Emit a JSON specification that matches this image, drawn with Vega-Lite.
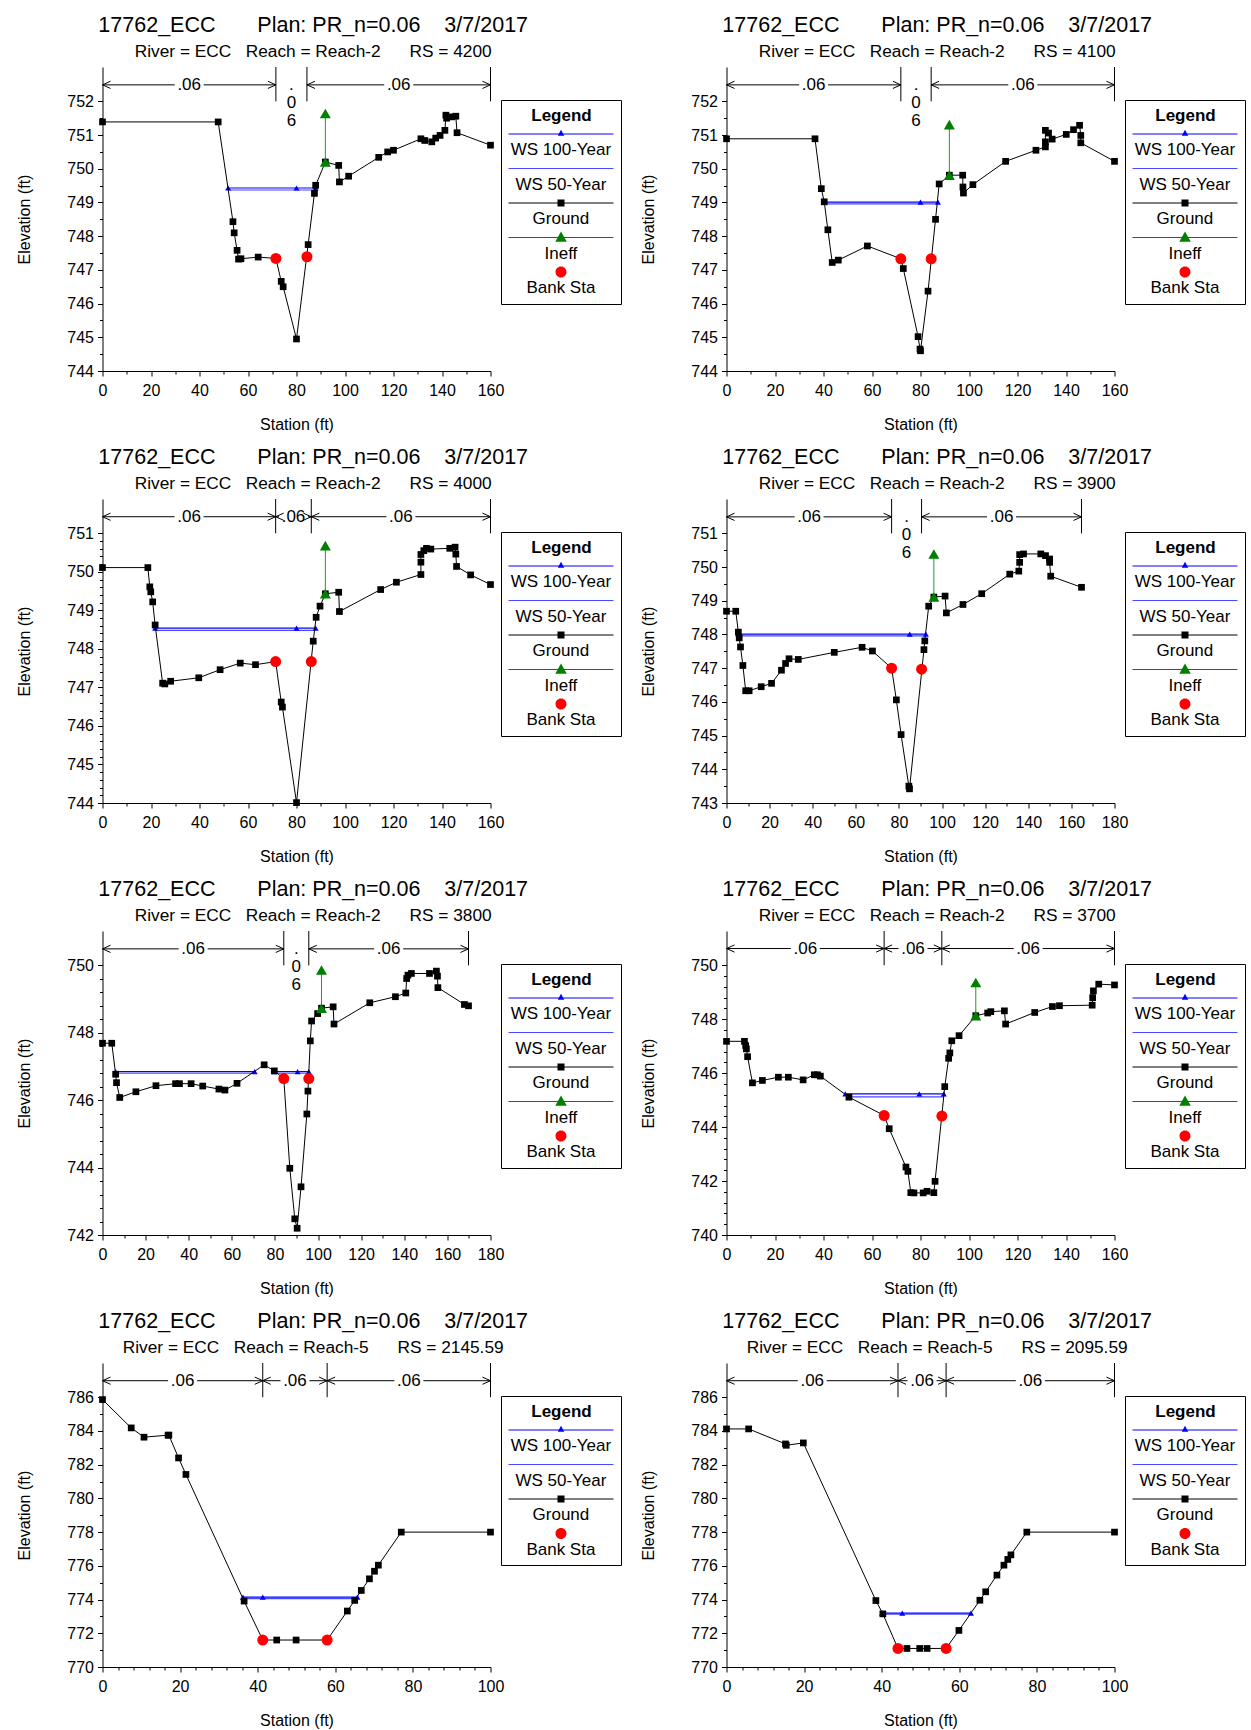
{
"$schema": "https://vega.github.io/schema/vega-lite/v6.json",
"padding": {"left": 16.5, "top": 14, "right": 5, "bottom": 5},
"background": "white",
"columns": 2,
"spacing": {"row": 128, "column": 236},
"bounds": "flush",
"resolve": {"scale": {"x": "independent", "y": "independent", "color": "independent", "shape": "independent"}, "legend": {"color": "independent", "shape": "independent"}},
"config": {
 "view": {"stroke": null},
 "font": "Liberation Sans",
 "axis": {"labelFont": "Liberation Sans", "titleFont": "Liberation Sans", "labelFontSize": 16, "titleFontSize": 16, "titleFontWeight": "normal", "labelColor": "black", "titleColor": "black", "domainColor": "black", "tickColor": "black", "grid": false, "labelOverlap": false, "labelFlush": false, "labelBound": false},
 "axisX": {"titlePadding": 18, "labelPadding": 6, "tickSize": 5},
 "axisY": {"titlePadding": 34, "labelPadding": 4, "tickSize": 5},
 "title": {"font": "Liberation Sans", "subtitleFont": "Liberation Sans", "fontSize": 21.5, "subtitleFontSize": 17.3, "fontWeight": "normal", "color": "black", "subtitleColor": "black", "anchor": "middle", "frame": "group", "dx": 16.7, "offset": 6, "subtitlePadding": 7},
 "legend": {"strokeColor": "black", "fillColor": "white", "padding": 7.5, "titleFont": "Liberation Sans", "titleFontSize": 17, "titleFontWeight": "bold", "titleColor": "black", "titleAnchor": "middle", "titlePadding": 17, "labelFont": "Liberation Sans", "labelFontSize": 17, "labelColor": "black", "labelAlign": "center", "labelBaseline": "middle", "labelOffset": -8.6, "symbolSize": 100, "symbolOffset": 44, "symbolStrokeWidth": 0, "rowPadding": 2.5}
},
"datasets": {
 "ground": [
  {"rs":"4200","sta":0,"elev":751.39},{"rs":"4200","sta":47.7,"elev":751.39},{"rs":"4200","sta":53.8,"elev":748.43},{"rs":"4200","sta":54.3,"elev":748.1},{"rs":"4200","sta":55.5,"elev":747.58},{"rs":"4200","sta":56.1,"elev":747.32},{"rs":"4200","sta":57.1,"elev":747.33},{"rs":"4200","sta":64.2,"elev":747.38},{"rs":"4200","sta":71.5,"elev":747.34},{"rs":"4200","sta":73.7,"elev":746.66},{"rs":"4200","sta":74.5,"elev":746.5},{"rs":"4200","sta":80,"elev":744.95},{"rs":"4200","sta":84.8,"elev":747.75},{"rs":"4200","sta":87.4,"elev":749.27},{"rs":"4200","sta":87.9,"elev":749.51},{"rs":"4200","sta":91.9,"elev":750.2},{"rs":"4200","sta":97.4,"elev":750.1},{"rs":"4200","sta":97.7,"elev":749.61},{"rs":"4200","sta":101.5,"elev":749.78},{"rs":"4200","sta":113.9,"elev":750.34},{"rs":"4200","sta":117.6,"elev":750.5},{"rs":"4200","sta":120,"elev":750.55},{"rs":"4200","sta":131.3,"elev":750.89},{"rs":"4200","sta":132.9,"elev":750.84},{"rs":"4200","sta":135.8,"elev":750.8},{"rs":"4200","sta":137.4,"elev":750.91},{"rs":"4200","sta":139.2,"elev":750.99},{"rs":"4200","sta":141.2,"elev":751.14},{"rs":"4200","sta":141.6,"elev":751.59},{"rs":"4200","sta":141.9,"elev":751.5},{"rs":"4200","sta":144,"elev":751.54},{"rs":"4200","sta":145.7,"elev":751.56},{"rs":"4200","sta":146.2,"elev":751.07},{"rs":"4200","sta":160,"elev":750.7},
  {"rs":"4100","sta":0,"elev":750.89},{"rs":"4100","sta":36.5,"elev":750.89},{"rs":"4100","sta":39.1,"elev":749.41},{"rs":"4100","sta":40.3,"elev":749.02},{"rs":"4100","sta":41.8,"elev":748.19},{"rs":"4100","sta":43.6,"elev":747.22},{"rs":"4100","sta":46.1,"elev":747.29},{"rs":"4100","sta":58.1,"elev":747.71},{"rs":"4100","sta":71.9,"elev":747.33},{"rs":"4100","sta":72.9,"elev":747.04},{"rs":"4100","sta":79,"elev":745.02},{"rs":"4100","sta":79.8,"elev":744.65},{"rs":"4100","sta":80,"elev":744.6},{"rs":"4100","sta":83.1,"elev":746.37},{"rs":"4100","sta":86.2,"elev":748.5},{"rs":"4100","sta":87.7,"elev":749.55},{"rs":"4100","sta":91.9,"elev":749.81},{"rs":"4100","sta":97.4,"elev":749.81},{"rs":"4100","sta":97.5,"elev":749.46},{"rs":"4100","sta":97.7,"elev":749.28},{"rs":"4100","sta":101.6,"elev":749.53},{"rs":"4100","sta":115.1,"elev":750.22},{"rs":"4100","sta":127.6,"elev":750.55},{"rs":"4100","sta":131.5,"elev":750.65},{"rs":"4100","sta":131.5,"elev":750.8},{"rs":"4100","sta":131.5,"elev":751.14},{"rs":"4100","sta":132.8,"elev":751.06},{"rs":"4100","sta":134.3,"elev":750.88},{"rs":"4100","sta":140.1,"elev":751.02},{"rs":"4100","sta":143.1,"elev":751.16},{"rs":"4100","sta":145.6,"elev":751.29},{"rs":"4100","sta":146.1,"elev":750.99},{"rs":"4100","sta":146.1,"elev":750.77},{"rs":"4100","sta":160,"elev":750.22},
  {"rs":"4000","sta":0,"elev":750.11},{"rs":"4000","sta":18.7,"elev":750.11},{"rs":"4000","sta":19.5,"elev":749.61},{"rs":"4000","sta":19.9,"elev":749.48},{"rs":"4000","sta":20.7,"elev":749.22},{"rs":"4000","sta":21.7,"elev":748.62},{"rs":"4000","sta":24.8,"elev":747.11},{"rs":"4000","sta":25.7,"elev":747.09},{"rs":"4000","sta":28.1,"elev":747.16},{"rs":"4000","sta":39.7,"elev":747.25},{"rs":"4000","sta":48.5,"elev":747.46},{"rs":"4000","sta":56.8,"elev":747.63},{"rs":"4000","sta":63.1,"elev":747.59},{"rs":"4000","sta":71.4,"elev":747.67},{"rs":"4000","sta":73.7,"elev":746.62},{"rs":"4000","sta":74.2,"elev":746.49},{"rs":"4000","sta":80,"elev":744.01},{"rs":"4000","sta":86.9,"elev":748.2},{"rs":"4000","sta":88.1,"elev":748.82},{"rs":"4000","sta":89.7,"elev":749.11},{"rs":"4000","sta":91.9,"elev":749.43},{"rs":"4000","sta":97.4,"elev":749.47},{"rs":"4000","sta":97.7,"elev":748.97},{"rs":"4000","sta":114.7,"elev":749.54},{"rs":"4000","sta":121.2,"elev":749.73},{"rs":"4000","sta":131.3,"elev":749.93},{"rs":"4000","sta":131.3,"elev":750.25},{"rs":"4000","sta":131.3,"elev":750.45},{"rs":"4000","sta":132.5,"elev":750.55},{"rs":"4000","sta":133.6,"elev":750.61},{"rs":"4000","sta":135.4,"elev":750.59},{"rs":"4000","sta":143.2,"elev":750.61},{"rs":"4000","sta":145.4,"elev":750.64},{"rs":"4000","sta":145.7,"elev":750.46},{"rs":"4000","sta":146,"elev":750.14},{"rs":"4000","sta":151.8,"elev":749.92},{"rs":"4000","sta":160,"elev":749.67},
  {"rs":"3900","sta":0,"elev":748.69},{"rs":"3900","sta":4.3,"elev":748.69},{"rs":"3900","sta":5.5,"elev":748.07},{"rs":"3900","sta":5.9,"elev":747.9},{"rs":"3900","sta":6.5,"elev":747.63},{"rs":"3900","sta":7.6,"elev":747.08},{"rs":"3900","sta":8.9,"elev":746.33},{"rs":"3900","sta":10.5,"elev":746.33},{"rs":"3900","sta":16.1,"elev":746.45},{"rs":"3900","sta":20.9,"elev":746.55},{"rs":"3900","sta":25.5,"elev":746.94},{"rs":"3900","sta":27.4,"elev":747.14},{"rs":"3900","sta":29,"elev":747.28},{"rs":"3900","sta":33.3,"elev":747.26},{"rs":"3900","sta":50,"elev":747.47},{"rs":"3900","sta":62.9,"elev":747.62},{"rs":"3900","sta":67.7,"elev":747.51},{"rs":"3900","sta":76.6,"elev":747.0},{"rs":"3900","sta":78.8,"elev":746.06},{"rs":"3900","sta":81,"elev":745.03},{"rs":"3900","sta":84.6,"elev":743.5},{"rs":"3900","sta":84.9,"elev":743.42},{"rs":"3900","sta":91.6,"elev":747.55},{"rs":"3900","sta":92,"elev":747.81},{"rs":"3900","sta":93.8,"elev":748.84},{"rs":"3900","sta":96.2,"elev":749.11},{"rs":"3900","sta":101.4,"elev":749.14},{"rs":"3900","sta":102,"elev":748.64},{"rs":"3900","sta":109.7,"elev":748.89},{"rs":"3900","sta":118.4,"elev":749.21},{"rs":"3900","sta":131.4,"elev":749.79},{"rs":"3900","sta":135.6,"elev":749.88},{"rs":"3900","sta":136,"elev":750.14},{"rs":"3900","sta":136,"elev":750.37},{"rs":"3900","sta":137.8,"elev":750.39},{"rs":"3900","sta":145.8,"elev":750.39},{"rs":"3900","sta":148,"elev":750.34},{"rs":"3900","sta":149.9,"elev":750.24},{"rs":"3900","sta":149.9,"elev":750.14},{"rs":"3900","sta":150.4,"elev":749.73},{"rs":"3900","sta":164.7,"elev":749.4},
  {"rs":"3800","sta":0,"elev":747.69},{"rs":"3800","sta":4.3,"elev":747.69},{"rs":"3800","sta":6.1,"elev":746.77},{"rs":"3800","sta":6.5,"elev":746.52},{"rs":"3800","sta":8,"elev":746.08},{"rs":"3800","sta":15.5,"elev":746.25},{"rs":"3800","sta":24.8,"elev":746.43},{"rs":"3800","sta":33.9,"elev":746.49},{"rs":"3800","sta":35.7,"elev":746.49},{"rs":"3800","sta":41.1,"elev":746.49},{"rs":"3800","sta":46.5,"elev":746.42},{"rs":"3800","sta":54,"elev":746.33},{"rs":"3800","sta":56.8,"elev":746.3},{"rs":"3800","sta":62.4,"elev":746.5},{"rs":"3800","sta":75,"elev":747.05},{"rs":"3800","sta":79.7,"elev":746.87},{"rs":"3800","sta":84.1,"elev":746.64},{"rs":"3800","sta":86.9,"elev":743.98},{"rs":"3800","sta":89.2,"elev":742.48},{"rs":"3800","sta":90.3,"elev":742.2},{"rs":"3800","sta":92.1,"elev":743.43},{"rs":"3800","sta":94.8,"elev":745.59},{"rs":"3800","sta":95.3,"elev":746.27},{"rs":"3800","sta":96.4,"elev":747.76},{"rs":"3800","sta":97,"elev":748.35},{"rs":"3800","sta":99.8,"elev":748.57},{"rs":"3800","sta":101.6,"elev":748.73},{"rs":"3800","sta":107,"elev":748.77},{"rs":"3800","sta":107.4,"elev":748.26},{"rs":"3800","sta":124,"elev":748.89},{"rs":"3800","sta":135.9,"elev":749.07},{"rs":"3800","sta":140.7,"elev":749.18},{"rs":"3800","sta":141.1,"elev":749.61},{"rs":"3800","sta":141.7,"elev":749.71},{"rs":"3800","sta":143.3,"elev":749.76},{"rs":"3800","sta":151.7,"elev":749.76},{"rs":"3800","sta":154.9,"elev":749.83},{"rs":"3800","sta":155.4,"elev":749.68},{"rs":"3800","sta":155.6,"elev":749.34},{"rs":"3800","sta":167.9,"elev":748.84},{"rs":"3800","sta":169.8,"elev":748.8},
  {"rs":"3700","sta":0,"elev":747.18},{"rs":"3700","sta":7.4,"elev":747.18},{"rs":"3700","sta":7.9,"elev":747.02},{"rs":"3700","sta":8.2,"elev":746.9},{"rs":"3700","sta":8.7,"elev":746.61},{"rs":"3700","sta":10.7,"elev":745.64},{"rs":"3700","sta":14.8,"elev":745.73},{"rs":"3700","sta":21.4,"elev":745.85},{"rs":"3700","sta":25.5,"elev":745.85},{"rs":"3700","sta":31.6,"elev":745.75},{"rs":"3700","sta":36.2,"elev":745.94},{"rs":"3700","sta":37.5,"elev":745.94},{"rs":"3700","sta":38.7,"elev":745.89},{"rs":"3700","sta":50.5,"elev":745.11},{"rs":"3700","sta":65,"elev":744.43},{"rs":"3700","sta":67.1,"elev":743.94},{"rs":"3700","sta":74,"elev":742.52},{"rs":"3700","sta":74.8,"elev":742.36},{"rs":"3700","sta":76,"elev":741.57},{"rs":"3700","sta":77.3,"elev":741.56},{"rs":"3700","sta":81.1,"elev":741.56},{"rs":"3700","sta":82.7,"elev":741.62},{"rs":"3700","sta":85.5,"elev":741.57},{"rs":"3700","sta":86,"elev":741.99},{"rs":"3700","sta":90,"elev":745.5},{"rs":"3700","sta":91.6,"elev":746.55},{"rs":"3700","sta":92.1,"elev":746.75},{"rs":"3700","sta":92.9,"elev":747.2},{"rs":"3700","sta":95.9,"elev":747.39},{"rs":"3700","sta":102.8,"elev":748.13},{"rs":"3700","sta":107.7,"elev":748.23},{"rs":"3700","sta":109,"elev":748.28},{"rs":"3700","sta":114.6,"elev":748.31},{"rs":"3700","sta":115.1,"elev":747.82},{"rs":"3700","sta":127.1,"elev":748.25},{"rs":"3700","sta":134.4,"elev":748.47},{"rs":"3700","sta":137.3,"elev":748.5},{"rs":"3700","sta":150.8,"elev":748.52},{"rs":"3700","sta":151,"elev":748.8},{"rs":"3700","sta":151.3,"elev":749.05},{"rs":"3700","sta":153.5,"elev":749.3},{"rs":"3700","sta":160,"elev":749.27},
  {"rs":"2145.59","sta":0,"elev":785.86},{"rs":"2145.59","sta":7.4,"elev":784.18},{"rs":"2145.59","sta":10.7,"elev":783.63},{"rs":"2145.59","sta":16.9,"elev":783.75},{"rs":"2145.59","sta":17.1,"elev":783.75},{"rs":"2145.59","sta":19.6,"elev":782.4},{"rs":"2145.59","sta":21.5,"elev":781.42},{"rs":"2145.59","sta":36.5,"elev":773.91},{"rs":"2145.59","sta":41.3,"elev":771.6},{"rs":"2145.59","sta":44.9,"elev":771.6},{"rs":"2145.59","sta":49.9,"elev":771.6},{"rs":"2145.59","sta":57.9,"elev":771.6},{"rs":"2145.59","sta":63.1,"elev":773.32},{"rs":"2145.59","sta":65,"elev":773.95},{"rs":"2145.59","sta":66.7,"elev":774.54},{"rs":"2145.59","sta":68.8,"elev":775.23},{"rs":"2145.59","sta":70.1,"elev":775.68},{"rs":"2145.59","sta":71.1,"elev":776.04},{"rs":"2145.59","sta":77,"elev":778},{"rs":"2145.59","sta":100,"elev":778},
  {"rs":"2095.59","sta":0,"elev":784.12},{"rs":"2095.59","sta":5.7,"elev":784.12},{"rs":"2095.59","sta":15.2,"elev":783.23},{"rs":"2095.59","sta":15.4,"elev":783.15},{"rs":"2095.59","sta":19.8,"elev":783.29},{"rs":"2095.59","sta":38.5,"elev":773.94},{"rs":"2095.59","sta":40.3,"elev":773.15},{"rs":"2095.59","sta":44.2,"elev":771.1},{"rs":"2095.59","sta":46.5,"elev":771.1},{"rs":"2095.59","sta":49.8,"elev":771.1},{"rs":"2095.59","sta":51.7,"elev":771.1},{"rs":"2095.59","sta":56.6,"elev":771.1},{"rs":"2095.59","sta":59.9,"elev":772.17},{"rs":"2095.59","sta":65.3,"elev":773.96},{"rs":"2095.59","sta":66.8,"elev":774.46},{"rs":"2095.59","sta":69.7,"elev":775.45},{"rs":"2095.59","sta":71.5,"elev":776.04},{"rs":"2095.59","sta":72.5,"elev":776.38},{"rs":"2095.59","sta":73.3,"elev":776.65},{"rs":"2095.59","sta":77.4,"elev":778},{"rs":"2095.59","sta":100,"elev":778}
 ],
 "ws": [
  {"rs":"4200","profile":"WS 100-Year","seg":"a","sta":51.8,"elev":749.43},{"rs":"4200","profile":"WS 100-Year","seg":"a","sta":80,"elev":749.43},{"rs":"4200","profile":"WS 100-Year","seg":"a","sta":87.9,"elev":749.43},
  {"rs":"4200","profile":"WS 50-Year","seg":"a","sta":51.9,"elev":749.37},{"rs":"4200","profile":"WS 50-Year","seg":"a","sta":87.8,"elev":749.37},
  {"rs":"4100","profile":"WS 100-Year","seg":"a","sta":40.3,"elev":749.01},{"rs":"4100","profile":"WS 100-Year","seg":"a","sta":80,"elev":749.01},{"rs":"4100","profile":"WS 100-Year","seg":"a","sta":87.2,"elev":749.01},
  {"rs":"4100","profile":"WS 50-Year","seg":"a","sta":40.4,"elev":748.96},{"rs":"4100","profile":"WS 50-Year","seg":"a","sta":87.1,"elev":748.96},
  {"rs":"4000","profile":"WS 100-Year","seg":"a","sta":21.7,"elev":748.54},{"rs":"4000","profile":"WS 100-Year","seg":"a","sta":80,"elev":748.54},{"rs":"4000","profile":"WS 100-Year","seg":"a","sta":87.9,"elev":748.54},
  {"rs":"4000","profile":"WS 50-Year","seg":"a","sta":21.8,"elev":748.48},{"rs":"4000","profile":"WS 50-Year","seg":"a","sta":87.8,"elev":748.48},
  {"rs":"3900","profile":"WS 100-Year","seg":"a","sta":5.5,"elev":748.01},{"rs":"3900","profile":"WS 100-Year","seg":"a","sta":85,"elev":748.01},{"rs":"3900","profile":"WS 100-Year","seg":"a","sta":92.5,"elev":748.01},
  {"rs":"3900","profile":"WS 50-Year","seg":"a","sta":5.6,"elev":747.96},{"rs":"3900","profile":"WS 50-Year","seg":"a","sta":92.4,"elev":747.96},
  {"rs":"3800","profile":"WS 100-Year","seg":"a","sta":6.1,"elev":746.85},{"rs":"3800","profile":"WS 100-Year","seg":"a","sta":70.6,"elev":746.85},{"rs":"3800","profile":"WS 100-Year","seg":"b","sta":79.7,"elev":746.85},{"rs":"3800","profile":"WS 100-Year","seg":"b","sta":90.5,"elev":746.85},{"rs":"3800","profile":"WS 100-Year","seg":"b","sta":95.7,"elev":746.85},
  {"rs":"3800","profile":"WS 50-Year","seg":"a","sta":6.2,"elev":746.8},{"rs":"3800","profile":"WS 50-Year","seg":"a","sta":70.4,"elev":746.8},{"rs":"3800","profile":"WS 50-Year","seg":"b","sta":80.1,"elev":746.8},{"rs":"3800","profile":"WS 50-Year","seg":"b","sta":95.6,"elev":746.8},
  {"rs":"3700","profile":"WS 100-Year","seg":"a","sta":49,"elev":745.23},{"rs":"3700","profile":"WS 100-Year","seg":"a","sta":79.5,"elev":745.23},{"rs":"3700","profile":"WS 100-Year","seg":"a","sta":89.6,"elev":745.23},
  {"rs":"3700","profile":"WS 50-Year","seg":"a","sta":50.3,"elev":745.12},{"rs":"3700","profile":"WS 50-Year","seg":"a","sta":89.5,"elev":745.12},
  {"rs":"2145.59","profile":"WS 100-Year","seg":"a","sta":36.2,"elev":774.14},{"rs":"2145.59","profile":"WS 100-Year","seg":"a","sta":41.3,"elev":774.14},{"rs":"2145.59","profile":"WS 100-Year","seg":"a","sta":65.7,"elev":774.14},
  {"rs":"2145.59","profile":"WS 50-Year","seg":"a","sta":36.3,"elev":774.06},{"rs":"2145.59","profile":"WS 50-Year","seg":"a","sta":65.6,"elev":774.06},
  {"rs":"2095.59","profile":"WS 100-Year","seg":"a","sta":40.1,"elev":773.19},{"rs":"2095.59","profile":"WS 100-Year","seg":"a","sta":45.3,"elev":773.19},{"rs":"2095.59","profile":"WS 100-Year","seg":"a","sta":63,"elev":773.19},
  {"rs":"2095.59","profile":"WS 50-Year","seg":"a","sta":40.2,"elev":773.13},{"rs":"2095.59","profile":"WS 50-Year","seg":"a","sta":62.9,"elev":773.13}
 ],
 "ineff": [
  {"rs":"4200","sta":91.9,"elev":750.2},{"rs":"4200","sta":91.9,"elev":751.64},
  {"rs":"4100","sta":91.9,"elev":749.81},{"rs":"4100","sta":91.9,"elev":751.31},
  {"rs":"4000","sta":91.9,"elev":749.43},{"rs":"4000","sta":91.9,"elev":750.68},
  {"rs":"3900","sta":96.2,"elev":749.11},{"rs":"3900","sta":96.2,"elev":750.39},
  {"rs":"3800","sta":101.6,"elev":748.73},{"rs":"3800","sta":101.6,"elev":749.86},
  {"rs":"3700","sta":102.8,"elev":748.13},{"rs":"3700","sta":102.8,"elev":749.36}
 ],
 "bank": [
  {"rs":"4200","sta":71.5,"elev":747.34},{"rs":"4200","sta":84.3,"elev":747.39},
  {"rs":"4100","sta":71.9,"elev":747.33},{"rs":"4100","sta":84.4,"elev":747.33},
  {"rs":"4000","sta":71.4,"elev":747.67},{"rs":"4000","sta":86.1,"elev":747.67},
  {"rs":"3900","sta":76.6,"elev":747.0},{"rs":"3900","sta":90.5,"elev":746.97},
  {"rs":"3800","sta":84.1,"elev":746.64},{"rs":"3800","sta":95.7,"elev":746.64},
  {"rs":"3700","sta":65,"elev":744.43},{"rs":"3700","sta":88.8,"elev":744.41},
  {"rs":"2145.59","sta":41.3,"elev":771.6},{"rs":"2145.59","sta":57.9,"elev":771.6},
  {"rs":"2095.59","sta":44.2,"elev":771.1},{"rs":"2095.59","sta":56.6,"elev":771.1}
 ],
 "nval": [
  {"rs":"4200","start":0,"end":71.5,"n":".06"},{"rs":"4200","start":71.5,"end":84.3,"n":".06"},{"rs":"4200","start":84.3,"end":160,"n":".06"},
  {"rs":"4100","start":0,"end":71.9,"n":".06"},{"rs":"4100","start":71.9,"end":84.4,"n":".06"},{"rs":"4100","start":84.4,"end":160,"n":".06"},
  {"rs":"4000","start":0,"end":71.4,"n":".06"},{"rs":"4000","start":71.4,"end":86.1,"n":".06"},{"rs":"4000","start":86.1,"end":160,"n":".06"},
  {"rs":"3900","start":0,"end":76.6,"n":".06"},{"rs":"3900","start":76.6,"end":90.5,"n":".06"},{"rs":"3900","start":90.5,"end":164.7,"n":".06"},
  {"rs":"3800","start":0,"end":84.1,"n":".06"},{"rs":"3800","start":84.1,"end":95.7,"n":".06"},{"rs":"3800","start":95.7,"end":169.8,"n":".06"},
  {"rs":"3700","start":0,"end":65,"n":".06"},{"rs":"3700","start":65,"end":88.8,"n":".06"},{"rs":"3700","start":88.8,"end":160,"n":".06"},
  {"rs":"2145.59","start":0,"end":41.3,"n":".06"},{"rs":"2145.59","start":41.3,"end":57.9,"n":".06"},{"rs":"2145.59","start":57.9,"end":100,"n":".06"},
  {"rs":"2095.59","start":0,"end":44.2,"n":".06"},{"rs":"2095.59","start":44.2,"end":56.6,"n":".06"},{"rs":"2095.59","start":56.6,"end":100,"n":".06"}
 ]
},
"concat": [
 {"width": 388, "height": 304,
  "title": {"text": "17762_ECC\u00a0\u00a0\u00a0\u00a0\u00a0\u00a0\u00a0Plan: PR_n=0.06\u00a0\u00a0\u00a0\u00a03/7/2017", "subtitle": "River = ECC\u00a0\u00a0\u00a0Reach = Reach-2\u00a0\u00a0\u00a0\u00a0\u00a0\u00a0RS = 4200"},
  "resolve": {"axis": {"x": "independent", "y": "independent"}},
  "layer": [
   {"data": {"values": []}, "mark": {"type": "point", "filled": true, "opacity": 1},
    "encoding": {
     "color": {"field": "series", "type": "nominal", "scale": {"domain": ["WS 100-Year","WS 50-Year","Ground","Ineff","Bank Sta"], "range": ["#0000ff","#4848ff","#000000","#008000","#ff0000"]}, "legend": {"title": "Legend", "orient": "none", "legendX": 398.5, "legendY": 33}},
     "shape": {"field": "series", "type": "nominal", "scale": {"domain": ["WS 100-Year","WS 50-Year","Ground","Ineff","Bank Sta"], "range": ["M-10.5,-3.31L10.5,-3.31L10.5,-3.09L-10.5,-3.09Z M0,-4.05L0.65,-2.85L-0.65,-2.85Z M0,-4.6L0.01,-4.6Z","M-10.5,-3.31L10.5,-3.31L10.5,-3.09L-10.5,-3.09Z M0,-4.6L0.01,-4.6Z","M-10.5,-3.31L10.5,-3.31L10.5,-3.09L-10.5,-3.09Z M-0.7,-3.9L0.7,-3.9L0.7,-2.5L-0.7,-2.5Z M0,-4.6L0.01,-4.6Z","M-10.5,-3.31L10.5,-3.31L10.5,-3.09L-10.5,-3.09Z M0,-4.4L1.15,-2.35L-1.15,-2.35Z M0,-4.6L0.01,-4.6Z","M1.1,-3.2A1.1,1.1 0 1,1 -1.1,-3.2A1.1,1.1 0 1,1 1.1,-3.2Z M0,-4.6L0.01,-4.6Z"]}, "legend": {"title": "Legend", "orient": "none", "legendX": 398.5, "legendY": 33}}}},
   {"data": {"name": "ws"}, "transform": [{"filter": "datum.rs == '4200' && datum.profile == 'WS 50-Year'"}],
    "mark": {"type": "line", "color": "#4848ff", "strokeWidth": 1.2},
    "encoding": {"x": {"field": "sta", "type": "quantitative", "axis": null}, "y": {"field": "elev", "type": "quantitative", "axis": null}, "detail": {"field": "seg"}, "order": {"value": null}}},
   {"data": {"name": "ws"}, "transform": [{"filter": "datum.rs == '4200' && datum.profile == 'WS 100-Year'"}],
    "mark": {"type": "line", "color": "#0000ff", "strokeWidth": 1.2, "point": {"shape": "triangle-up", "size": 36, "filled": true, "color": "#0000ff", "opacity": 1}},
    "encoding": {"x": {"field": "sta", "type": "quantitative", "axis": null}, "y": {"field": "elev", "type": "quantitative", "axis": null}, "detail": {"field": "seg"}, "order": {"value": null}}},
   {"data": {"name": "ground"}, "transform": [{"filter": "datum.rs == '4200'"}],
    "mark": {"type": "line", "color": "black", "strokeWidth": 1, "point": {"shape": "square", "size": 45, "filled": true, "color": "black", "opacity": 1}},
    "encoding": {"x": {"field": "sta", "type": "quantitative", "scale": {"domain": [0, 160], "nice": false, "zero": false}, "axis": {"orient": "bottom", "title": "Station (ft)", "values": [0,20,40,60,80,100,120,140,160], "format": "d"}},
     "y": {"field": "elev", "type": "quantitative", "scale": {"domain": [744, 753.02], "nice": false, "zero": false}, "axis": {"orient": "left", "title": "Elevation (ft)", "values": [744,745,746,747,748,749,750,751,752], "format": "d"}},
     "order": {"value": null}}},
   {"data": {"name": "ineff"}, "transform": [{"filter": "datum.rs == '4200'"}],
    "mark": {"type": "line", "color": "#2a962a", "strokeWidth": 1, "point": {"shape": "triangle-up", "size": 121, "filled": true, "color": "#008000", "opacity": 1}},
    "encoding": {"x": {"field": "sta", "type": "quantitative", "axis": null}, "y": {"field": "elev", "type": "quantitative", "axis": null}, "order": {"value": null}}},
   {"data": {"name": "bank"}, "transform": [{"filter": "datum.rs == '4200'"}],
    "mark": {"type": "point", "shape": "circle", "size": 121, "filled": true, "color": "#ff0000", "opacity": 1},
    "encoding": {"x": {"field": "sta", "type": "quantitative", "axis": {"orient": "bottom", "values": [10,30,50,70,90,110,130,150], "labels": false, "domain": false, "tickSize": 3, "title": null}},
     "y": {"field": "elev", "type": "quantitative", "axis": {"orient": "left", "values": [744.5,745.5,746.5,747.5,748.5,749.5,750.5,751.5], "labels": false, "domain": false, "tickSize": 3, "title": null}}}},
   {"data": {"name": "nval"}, "transform": [{"filter": "datum.rs == '4200'"}],
    "mark": {"type": "rule", "color": "black", "strokeWidth": 1},
    "encoding": {"x": {"field": "end", "type": "quantitative", "axis": null}, "y": {"datum": 752, "axis": null}, "y2": {"datum": 753.02}}},
   {"data": {"name": "nval"}, "transform": [{"filter": "datum.rs == '4200' && datum.end - datum.start >= 14"}],
    "mark": {"type": "rule", "color": "black", "strokeWidth": 1},
    "encoding": {"x": {"field": "start", "type": "quantitative", "axis": null}, "x2": {"field": "end"}, "y": {"datum": 752.49, "axis": null}}},
   {"data": {"name": "nval"}, "transform": [{"filter": "datum.rs == '4200' && datum.end - datum.start >= 14"}, {"calculate": "(datum.start + datum.end) / 2", "as": "mid"}],
    "mark": {"type": "point", "shape": "M-1,-0.5L1,-0.5L1,0.5L-1,0.5Z", "size": 841, "filled": true, "color": "white", "opacity": 1},
    "encoding": {"x": {"field": "mid", "type": "quantitative", "axis": null}, "y": {"datum": 752.49, "axis": null}}},
   {"data": {"name": "nval"}, "transform": [{"filter": "datum.rs == '4200' && datum.end - datum.start >= 14"}, {"calculate": "(datum.start + datum.end) / 2", "as": "mid"}],
    "mark": {"type": "text", "font": "Liberation Sans", "fontSize": 17, "color": "black", "align": "center", "baseline": "middle"},
    "encoding": {"x": {"field": "mid", "type": "quantitative", "axis": null}, "y": {"datum": 752.49, "axis": null}, "text": {"field": "n"}}},
   {"data": {"name": "nval"}, "transform": [{"filter": "datum.rs == '4200' && datum.end - datum.start >= 14"}],
    "mark": {"type": "point", "shape": "M1,-0.45L0,0L1,0.45", "size": 256, "filled": false, "color": "black", "strokeWidth": 1, "opacity": 1},
    "encoding": {"x": {"field": "start", "type": "quantitative", "axis": null}, "y": {"datum": 752.49, "axis": null}}},
   {"data": {"name": "nval"}, "transform": [{"filter": "datum.rs == '4200' && datum.end - datum.start >= 14"}],
    "mark": {"type": "point", "shape": "M-1,-0.45L0,0L-1,0.45", "size": 256, "filled": false, "color": "black", "strokeWidth": 1, "opacity": 1},
    "encoding": {"x": {"field": "end", "type": "quantitative", "axis": null}, "y": {"datum": 752.49, "axis": null}}},
   {"data": {"name": "nval"}, "transform": [{"filter": "datum.rs == '4200' && datum.end - datum.start < 14"}, {"calculate": "(datum.start + datum.end) / 2", "as": "mid"}, {"calculate": "join(split(datum.n, ''), '|')", "as": "lbl"}],
    "mark": {"type": "text", "font": "Liberation Sans", "fontSize": 17, "color": "black", "align": "center", "baseline": "alphabetic", "lineBreak": "|", "lineHeight": 18, "dy": 5},
    "encoding": {"x": {"field": "mid", "type": "quantitative", "axis": null}, "y": {"datum": 752.49, "axis": null}, "text": {"field": "lbl"}}}
  ]},
 {"width": 388, "height": 304,
  "title": {"text": "17762_ECC\u00a0\u00a0\u00a0\u00a0\u00a0\u00a0\u00a0Plan: PR_n=0.06\u00a0\u00a0\u00a0\u00a03/7/2017", "subtitle": "River = ECC\u00a0\u00a0\u00a0Reach = Reach-2\u00a0\u00a0\u00a0\u00a0\u00a0\u00a0RS = 4100"},
  "resolve": {"axis": {"x": "independent", "y": "independent"}},
  "layer": [
   {"data": {"values": []}, "mark": {"type": "point", "filled": true, "opacity": 1},
    "encoding": {
     "color": {"field": "series", "type": "nominal", "scale": {"domain": ["WS 100-Year","WS 50-Year","Ground","Ineff","Bank Sta"], "range": ["#0000ff","#4848ff","#000000","#008000","#ff0000"]}, "legend": {"title": "Legend", "orient": "none", "legendX": 398.5, "legendY": 33}},
     "shape": {"field": "series", "type": "nominal", "scale": {"domain": ["WS 100-Year","WS 50-Year","Ground","Ineff","Bank Sta"], "range": ["M-10.5,-3.31L10.5,-3.31L10.5,-3.09L-10.5,-3.09Z M0,-4.05L0.65,-2.85L-0.65,-2.85Z M0,-4.6L0.01,-4.6Z","M-10.5,-3.31L10.5,-3.31L10.5,-3.09L-10.5,-3.09Z M0,-4.6L0.01,-4.6Z","M-10.5,-3.31L10.5,-3.31L10.5,-3.09L-10.5,-3.09Z M-0.7,-3.9L0.7,-3.9L0.7,-2.5L-0.7,-2.5Z M0,-4.6L0.01,-4.6Z","M-10.5,-3.31L10.5,-3.31L10.5,-3.09L-10.5,-3.09Z M0,-4.4L1.15,-2.35L-1.15,-2.35Z M0,-4.6L0.01,-4.6Z","M1.1,-3.2A1.1,1.1 0 1,1 -1.1,-3.2A1.1,1.1 0 1,1 1.1,-3.2Z M0,-4.6L0.01,-4.6Z"]}, "legend": {"title": "Legend", "orient": "none", "legendX": 398.5, "legendY": 33}}}},
   {"data": {"name": "ws"}, "transform": [{"filter": "datum.rs == '4100' && datum.profile == 'WS 50-Year'"}],
    "mark": {"type": "line", "color": "#4848ff", "strokeWidth": 1.2},
    "encoding": {"x": {"field": "sta", "type": "quantitative", "axis": null}, "y": {"field": "elev", "type": "quantitative", "axis": null}, "detail": {"field": "seg"}, "order": {"value": null}}},
   {"data": {"name": "ws"}, "transform": [{"filter": "datum.rs == '4100' && datum.profile == 'WS 100-Year'"}],
    "mark": {"type": "line", "color": "#0000ff", "strokeWidth": 1.2, "point": {"shape": "triangle-up", "size": 36, "filled": true, "color": "#0000ff", "opacity": 1}},
    "encoding": {"x": {"field": "sta", "type": "quantitative", "axis": null}, "y": {"field": "elev", "type": "quantitative", "axis": null}, "detail": {"field": "seg"}, "order": {"value": null}}},
   {"data": {"name": "ground"}, "transform": [{"filter": "datum.rs == '4100'"}],
    "mark": {"type": "line", "color": "black", "strokeWidth": 1, "point": {"shape": "square", "size": 45, "filled": true, "color": "black", "opacity": 1}},
    "encoding": {"x": {"field": "sta", "type": "quantitative", "scale": {"domain": [0, 160], "nice": false, "zero": false}, "axis": {"orient": "bottom", "title": "Station (ft)", "values": [0,20,40,60,80,100,120,140,160], "format": "d"}},
     "y": {"field": "elev", "type": "quantitative", "scale": {"domain": [744, 753.02], "nice": false, "zero": false}, "axis": {"orient": "left", "title": "Elevation (ft)", "values": [744,745,746,747,748,749,750,751,752], "format": "d"}},
     "order": {"value": null}}},
   {"data": {"name": "ineff"}, "transform": [{"filter": "datum.rs == '4100'"}],
    "mark": {"type": "line", "color": "#2a962a", "strokeWidth": 1, "point": {"shape": "triangle-up", "size": 121, "filled": true, "color": "#008000", "opacity": 1}},
    "encoding": {"x": {"field": "sta", "type": "quantitative", "axis": null}, "y": {"field": "elev", "type": "quantitative", "axis": null}, "order": {"value": null}}},
   {"data": {"name": "bank"}, "transform": [{"filter": "datum.rs == '4100'"}],
    "mark": {"type": "point", "shape": "circle", "size": 121, "filled": true, "color": "#ff0000", "opacity": 1},
    "encoding": {"x": {"field": "sta", "type": "quantitative", "axis": {"orient": "bottom", "values": [10,30,50,70,90,110,130,150], "labels": false, "domain": false, "tickSize": 3, "title": null}},
     "y": {"field": "elev", "type": "quantitative", "axis": {"orient": "left", "values": [744.5,745.5,746.5,747.5,748.5,749.5,750.5,751.5], "labels": false, "domain": false, "tickSize": 3, "title": null}}}},
   {"data": {"name": "nval"}, "transform": [{"filter": "datum.rs == '4100'"}],
    "mark": {"type": "rule", "color": "black", "strokeWidth": 1},
    "encoding": {"x": {"field": "end", "type": "quantitative", "axis": null}, "y": {"datum": 752, "axis": null}, "y2": {"datum": 753.02}}},
   {"data": {"name": "nval"}, "transform": [{"filter": "datum.rs == '4100' && datum.end - datum.start >= 14"}],
    "mark": {"type": "rule", "color": "black", "strokeWidth": 1},
    "encoding": {"x": {"field": "start", "type": "quantitative", "axis": null}, "x2": {"field": "end"}, "y": {"datum": 752.49, "axis": null}}},
   {"data": {"name": "nval"}, "transform": [{"filter": "datum.rs == '4100' && datum.end - datum.start >= 14"}, {"calculate": "(datum.start + datum.end) / 2", "as": "mid"}],
    "mark": {"type": "point", "shape": "M-1,-0.5L1,-0.5L1,0.5L-1,0.5Z", "size": 841, "filled": true, "color": "white", "opacity": 1},
    "encoding": {"x": {"field": "mid", "type": "quantitative", "axis": null}, "y": {"datum": 752.49, "axis": null}}},
   {"data": {"name": "nval"}, "transform": [{"filter": "datum.rs == '4100' && datum.end - datum.start >= 14"}, {"calculate": "(datum.start + datum.end) / 2", "as": "mid"}],
    "mark": {"type": "text", "font": "Liberation Sans", "fontSize": 17, "color": "black", "align": "center", "baseline": "middle"},
    "encoding": {"x": {"field": "mid", "type": "quantitative", "axis": null}, "y": {"datum": 752.49, "axis": null}, "text": {"field": "n"}}},
   {"data": {"name": "nval"}, "transform": [{"filter": "datum.rs == '4100' && datum.end - datum.start >= 14"}],
    "mark": {"type": "point", "shape": "M1,-0.45L0,0L1,0.45", "size": 256, "filled": false, "color": "black", "strokeWidth": 1, "opacity": 1},
    "encoding": {"x": {"field": "start", "type": "quantitative", "axis": null}, "y": {"datum": 752.49, "axis": null}}},
   {"data": {"name": "nval"}, "transform": [{"filter": "datum.rs == '4100' && datum.end - datum.start >= 14"}],
    "mark": {"type": "point", "shape": "M-1,-0.45L0,0L-1,0.45", "size": 256, "filled": false, "color": "black", "strokeWidth": 1, "opacity": 1},
    "encoding": {"x": {"field": "end", "type": "quantitative", "axis": null}, "y": {"datum": 752.49, "axis": null}}},
   {"data": {"name": "nval"}, "transform": [{"filter": "datum.rs == '4100' && datum.end - datum.start < 14"}, {"calculate": "(datum.start + datum.end) / 2", "as": "mid"}, {"calculate": "join(split(datum.n, ''), '|')", "as": "lbl"}],
    "mark": {"type": "text", "font": "Liberation Sans", "fontSize": 17, "color": "black", "align": "center", "baseline": "alphabetic", "lineBreak": "|", "lineHeight": 18, "dy": 5},
    "encoding": {"x": {"field": "mid", "type": "quantitative", "axis": null}, "y": {"datum": 752.49, "axis": null}, "text": {"field": "lbl"}}}
  ]},
 {"width": 388, "height": 304,
  "title": {"text": "17762_ECC\u00a0\u00a0\u00a0\u00a0\u00a0\u00a0\u00a0Plan: PR_n=0.06\u00a0\u00a0\u00a0\u00a03/7/2017", "subtitle": "River = ECC\u00a0\u00a0\u00a0Reach = Reach-2\u00a0\u00a0\u00a0\u00a0\u00a0\u00a0RS = 4000"},
  "resolve": {"axis": {"x": "independent", "y": "independent"}},
  "layer": [
   {"data": {"values": []}, "mark": {"type": "point", "filled": true, "opacity": 1},
    "encoding": {
     "color": {"field": "series", "type": "nominal", "scale": {"domain": ["WS 100-Year","WS 50-Year","Ground","Ineff","Bank Sta"], "range": ["#0000ff","#4848ff","#000000","#008000","#ff0000"]}, "legend": {"title": "Legend", "orient": "none", "legendX": 398.5, "legendY": 33}},
     "shape": {"field": "series", "type": "nominal", "scale": {"domain": ["WS 100-Year","WS 50-Year","Ground","Ineff","Bank Sta"], "range": ["M-10.5,-3.31L10.5,-3.31L10.5,-3.09L-10.5,-3.09Z M0,-4.05L0.65,-2.85L-0.65,-2.85Z M0,-4.6L0.01,-4.6Z","M-10.5,-3.31L10.5,-3.31L10.5,-3.09L-10.5,-3.09Z M0,-4.6L0.01,-4.6Z","M-10.5,-3.31L10.5,-3.31L10.5,-3.09L-10.5,-3.09Z M-0.7,-3.9L0.7,-3.9L0.7,-2.5L-0.7,-2.5Z M0,-4.6L0.01,-4.6Z","M-10.5,-3.31L10.5,-3.31L10.5,-3.09L-10.5,-3.09Z M0,-4.4L1.15,-2.35L-1.15,-2.35Z M0,-4.6L0.01,-4.6Z","M1.1,-3.2A1.1,1.1 0 1,1 -1.1,-3.2A1.1,1.1 0 1,1 1.1,-3.2Z M0,-4.6L0.01,-4.6Z"]}, "legend": {"title": "Legend", "orient": "none", "legendX": 398.5, "legendY": 33}}}},
   {"data": {"name": "ws"}, "transform": [{"filter": "datum.rs == '4000' && datum.profile == 'WS 50-Year'"}],
    "mark": {"type": "line", "color": "#4848ff", "strokeWidth": 1.2},
    "encoding": {"x": {"field": "sta", "type": "quantitative", "axis": null}, "y": {"field": "elev", "type": "quantitative", "axis": null}, "detail": {"field": "seg"}, "order": {"value": null}}},
   {"data": {"name": "ws"}, "transform": [{"filter": "datum.rs == '4000' && datum.profile == 'WS 100-Year'"}],
    "mark": {"type": "line", "color": "#0000ff", "strokeWidth": 1.2, "point": {"shape": "triangle-up", "size": 36, "filled": true, "color": "#0000ff", "opacity": 1}},
    "encoding": {"x": {"field": "sta", "type": "quantitative", "axis": null}, "y": {"field": "elev", "type": "quantitative", "axis": null}, "detail": {"field": "seg"}, "order": {"value": null}}},
   {"data": {"name": "ground"}, "transform": [{"filter": "datum.rs == '4000'"}],
    "mark": {"type": "line", "color": "black", "strokeWidth": 1, "point": {"shape": "square", "size": 45, "filled": true, "color": "black", "opacity": 1}},
    "encoding": {"x": {"field": "sta", "type": "quantitative", "scale": {"domain": [0, 160], "nice": false, "zero": false}, "axis": {"orient": "bottom", "title": "Station (ft)", "values": [0,20,40,60,80,100,120,140,160], "format": "d"}},
     "y": {"field": "elev", "type": "quantitative", "scale": {"domain": [744, 751.89], "nice": false, "zero": false}, "axis": {"orient": "left", "title": "Elevation (ft)", "values": [744,745,746,747,748,749,750,751], "format": "d"}},
     "order": {"value": null}}},
   {"data": {"name": "ineff"}, "transform": [{"filter": "datum.rs == '4000'"}],
    "mark": {"type": "line", "color": "#2a962a", "strokeWidth": 1, "point": {"shape": "triangle-up", "size": 121, "filled": true, "color": "#008000", "opacity": 1}},
    "encoding": {"x": {"field": "sta", "type": "quantitative", "axis": null}, "y": {"field": "elev", "type": "quantitative", "axis": null}, "order": {"value": null}}},
   {"data": {"name": "bank"}, "transform": [{"filter": "datum.rs == '4000'"}],
    "mark": {"type": "point", "shape": "circle", "size": 121, "filled": true, "color": "#ff0000", "opacity": 1},
    "encoding": {"x": {"field": "sta", "type": "quantitative", "axis": {"orient": "bottom", "values": [10,30,50,70,90,110,130,150], "labels": false, "domain": false, "tickSize": 3, "title": null}},
     "y": {"field": "elev", "type": "quantitative", "axis": {"orient": "left", "values": [744.2,744.4,744.6,744.8,745.2,745.4,745.6,745.8,746.2,746.4,746.6,746.8,747.2,747.4,747.6,747.8,748.2,748.4,748.6,748.8,749.2,749.4,749.6,749.8,750.2,750.4,750.6,750.8], "labels": false, "domain": false, "tickSize": 3, "title": null}}}},
   {"data": {"name": "nval"}, "transform": [{"filter": "datum.rs == '4000'"}],
    "mark": {"type": "rule", "color": "black", "strokeWidth": 1},
    "encoding": {"x": {"field": "end", "type": "quantitative", "axis": null}, "y": {"datum": 751, "axis": null}, "y2": {"datum": 751.89}}},
   {"data": {"name": "nval"}, "transform": [{"filter": "datum.rs == '4000' && datum.end - datum.start >= 14"}],
    "mark": {"type": "rule", "color": "black", "strokeWidth": 1},
    "encoding": {"x": {"field": "start", "type": "quantitative", "axis": null}, "x2": {"field": "end"}, "y": {"datum": 751.43, "axis": null}}},
   {"data": {"name": "nval"}, "transform": [{"filter": "datum.rs == '4000' && datum.end - datum.start >= 14"}, {"calculate": "(datum.start + datum.end) / 2", "as": "mid"}],
    "mark": {"type": "point", "shape": "M-1,-0.5L1,-0.5L1,0.5L-1,0.5Z", "size": 841, "filled": true, "color": "white", "opacity": 1},
    "encoding": {"x": {"field": "mid", "type": "quantitative", "axis": null}, "y": {"datum": 751.43, "axis": null}}},
   {"data": {"name": "nval"}, "transform": [{"filter": "datum.rs == '4000' && datum.end - datum.start >= 14"}, {"calculate": "(datum.start + datum.end) / 2", "as": "mid"}],
    "mark": {"type": "text", "font": "Liberation Sans", "fontSize": 17, "color": "black", "align": "center", "baseline": "middle"},
    "encoding": {"x": {"field": "mid", "type": "quantitative", "axis": null}, "y": {"datum": 751.43, "axis": null}, "text": {"field": "n"}}},
   {"data": {"name": "nval"}, "transform": [{"filter": "datum.rs == '4000' && datum.end - datum.start >= 14"}],
    "mark": {"type": "point", "shape": "M1,-0.45L0,0L1,0.45", "size": 256, "filled": false, "color": "black", "strokeWidth": 1, "opacity": 1},
    "encoding": {"x": {"field": "start", "type": "quantitative", "axis": null}, "y": {"datum": 751.43, "axis": null}}},
   {"data": {"name": "nval"}, "transform": [{"filter": "datum.rs == '4000' && datum.end - datum.start >= 14"}],
    "mark": {"type": "point", "shape": "M-1,-0.45L0,0L-1,0.45", "size": 256, "filled": false, "color": "black", "strokeWidth": 1, "opacity": 1},
    "encoding": {"x": {"field": "end", "type": "quantitative", "axis": null}, "y": {"datum": 751.43, "axis": null}}},
   {"data": {"name": "nval"}, "transform": [{"filter": "datum.rs == '4000' && datum.end - datum.start < 14"}, {"calculate": "(datum.start + datum.end) / 2", "as": "mid"}, {"calculate": "join(split(datum.n, ''), '|')", "as": "lbl"}],
    "mark": {"type": "text", "font": "Liberation Sans", "fontSize": 17, "color": "black", "align": "center", "baseline": "alphabetic", "lineBreak": "|", "lineHeight": 18, "dy": 5},
    "encoding": {"x": {"field": "mid", "type": "quantitative", "axis": null}, "y": {"datum": 751.43, "axis": null}, "text": {"field": "lbl"}}}
  ]},
 {"width": 388, "height": 304,
  "title": {"text": "17762_ECC\u00a0\u00a0\u00a0\u00a0\u00a0\u00a0\u00a0Plan: PR_n=0.06\u00a0\u00a0\u00a0\u00a03/7/2017", "subtitle": "River = ECC\u00a0\u00a0\u00a0Reach = Reach-2\u00a0\u00a0\u00a0\u00a0\u00a0\u00a0RS = 3900"},
  "resolve": {"axis": {"x": "independent", "y": "independent"}},
  "layer": [
   {"data": {"values": []}, "mark": {"type": "point", "filled": true, "opacity": 1},
    "encoding": {
     "color": {"field": "series", "type": "nominal", "scale": {"domain": ["WS 100-Year","WS 50-Year","Ground","Ineff","Bank Sta"], "range": ["#0000ff","#4848ff","#000000","#008000","#ff0000"]}, "legend": {"title": "Legend", "orient": "none", "legendX": 398.5, "legendY": 33}},
     "shape": {"field": "series", "type": "nominal", "scale": {"domain": ["WS 100-Year","WS 50-Year","Ground","Ineff","Bank Sta"], "range": ["M-10.5,-3.31L10.5,-3.31L10.5,-3.09L-10.5,-3.09Z M0,-4.05L0.65,-2.85L-0.65,-2.85Z M0,-4.6L0.01,-4.6Z","M-10.5,-3.31L10.5,-3.31L10.5,-3.09L-10.5,-3.09Z M0,-4.6L0.01,-4.6Z","M-10.5,-3.31L10.5,-3.31L10.5,-3.09L-10.5,-3.09Z M-0.7,-3.9L0.7,-3.9L0.7,-2.5L-0.7,-2.5Z M0,-4.6L0.01,-4.6Z","M-10.5,-3.31L10.5,-3.31L10.5,-3.09L-10.5,-3.09Z M0,-4.4L1.15,-2.35L-1.15,-2.35Z M0,-4.6L0.01,-4.6Z","M1.1,-3.2A1.1,1.1 0 1,1 -1.1,-3.2A1.1,1.1 0 1,1 1.1,-3.2Z M0,-4.6L0.01,-4.6Z"]}, "legend": {"title": "Legend", "orient": "none", "legendX": 398.5, "legendY": 33}}}},
   {"data": {"name": "ws"}, "transform": [{"filter": "datum.rs == '3900' && datum.profile == 'WS 50-Year'"}],
    "mark": {"type": "line", "color": "#4848ff", "strokeWidth": 1.2},
    "encoding": {"x": {"field": "sta", "type": "quantitative", "axis": null}, "y": {"field": "elev", "type": "quantitative", "axis": null}, "detail": {"field": "seg"}, "order": {"value": null}}},
   {"data": {"name": "ws"}, "transform": [{"filter": "datum.rs == '3900' && datum.profile == 'WS 100-Year'"}],
    "mark": {"type": "line", "color": "#0000ff", "strokeWidth": 1.2, "point": {"shape": "triangle-up", "size": 36, "filled": true, "color": "#0000ff", "opacity": 1}},
    "encoding": {"x": {"field": "sta", "type": "quantitative", "axis": null}, "y": {"field": "elev", "type": "quantitative", "axis": null}, "detail": {"field": "seg"}, "order": {"value": null}}},
   {"data": {"name": "ground"}, "transform": [{"filter": "datum.rs == '3900'"}],
    "mark": {"type": "line", "color": "black", "strokeWidth": 1, "point": {"shape": "square", "size": 45, "filled": true, "color": "black", "opacity": 1}},
    "encoding": {"x": {"field": "sta", "type": "quantitative", "scale": {"domain": [0, 180], "nice": false, "zero": false}, "axis": {"orient": "bottom", "title": "Station (ft)", "values": [0,20,40,60,80,100,120,140,160,180], "format": "d"}},
     "y": {"field": "elev", "type": "quantitative", "scale": {"domain": [743, 752.02], "nice": false, "zero": false}, "axis": {"orient": "left", "title": "Elevation (ft)", "values": [743,744,745,746,747,748,749,750,751], "format": "d"}},
     "order": {"value": null}}},
   {"data": {"name": "ineff"}, "transform": [{"filter": "datum.rs == '3900'"}],
    "mark": {"type": "line", "color": "#2a962a", "strokeWidth": 1, "point": {"shape": "triangle-up", "size": 121, "filled": true, "color": "#008000", "opacity": 1}},
    "encoding": {"x": {"field": "sta", "type": "quantitative", "axis": null}, "y": {"field": "elev", "type": "quantitative", "axis": null}, "order": {"value": null}}},
   {"data": {"name": "bank"}, "transform": [{"filter": "datum.rs == '3900'"}],
    "mark": {"type": "point", "shape": "circle", "size": 121, "filled": true, "color": "#ff0000", "opacity": 1},
    "encoding": {"x": {"field": "sta", "type": "quantitative", "axis": {"orient": "bottom", "values": [10,30,50,70,90,110,130,150,170], "labels": false, "domain": false, "tickSize": 3, "title": null}},
     "y": {"field": "elev", "type": "quantitative", "axis": {"orient": "left", "values": [743.5,744.5,745.5,746.5,747.5,748.5,749.5,750.5], "labels": false, "domain": false, "tickSize": 3, "title": null}}}},
   {"data": {"name": "nval"}, "transform": [{"filter": "datum.rs == '3900'"}],
    "mark": {"type": "rule", "color": "black", "strokeWidth": 1},
    "encoding": {"x": {"field": "end", "type": "quantitative", "axis": null}, "y": {"datum": 751, "axis": null}, "y2": {"datum": 752.02}}},
   {"data": {"name": "nval"}, "transform": [{"filter": "datum.rs == '3900' && datum.end - datum.start >= 14"}],
    "mark": {"type": "rule", "color": "black", "strokeWidth": 1},
    "encoding": {"x": {"field": "start", "type": "quantitative", "axis": null}, "x2": {"field": "end"}, "y": {"datum": 751.49, "axis": null}}},
   {"data": {"name": "nval"}, "transform": [{"filter": "datum.rs == '3900' && datum.end - datum.start >= 14"}, {"calculate": "(datum.start + datum.end) / 2", "as": "mid"}],
    "mark": {"type": "point", "shape": "M-1,-0.5L1,-0.5L1,0.5L-1,0.5Z", "size": 841, "filled": true, "color": "white", "opacity": 1},
    "encoding": {"x": {"field": "mid", "type": "quantitative", "axis": null}, "y": {"datum": 751.49, "axis": null}}},
   {"data": {"name": "nval"}, "transform": [{"filter": "datum.rs == '3900' && datum.end - datum.start >= 14"}, {"calculate": "(datum.start + datum.end) / 2", "as": "mid"}],
    "mark": {"type": "text", "font": "Liberation Sans", "fontSize": 17, "color": "black", "align": "center", "baseline": "middle"},
    "encoding": {"x": {"field": "mid", "type": "quantitative", "axis": null}, "y": {"datum": 751.49, "axis": null}, "text": {"field": "n"}}},
   {"data": {"name": "nval"}, "transform": [{"filter": "datum.rs == '3900' && datum.end - datum.start >= 14"}],
    "mark": {"type": "point", "shape": "M1,-0.45L0,0L1,0.45", "size": 256, "filled": false, "color": "black", "strokeWidth": 1, "opacity": 1},
    "encoding": {"x": {"field": "start", "type": "quantitative", "axis": null}, "y": {"datum": 751.49, "axis": null}}},
   {"data": {"name": "nval"}, "transform": [{"filter": "datum.rs == '3900' && datum.end - datum.start >= 14"}],
    "mark": {"type": "point", "shape": "M-1,-0.45L0,0L-1,0.45", "size": 256, "filled": false, "color": "black", "strokeWidth": 1, "opacity": 1},
    "encoding": {"x": {"field": "end", "type": "quantitative", "axis": null}, "y": {"datum": 751.49, "axis": null}}},
   {"data": {"name": "nval"}, "transform": [{"filter": "datum.rs == '3900' && datum.end - datum.start < 14"}, {"calculate": "(datum.start + datum.end) / 2", "as": "mid"}, {"calculate": "join(split(datum.n, ''), '|')", "as": "lbl"}],
    "mark": {"type": "text", "font": "Liberation Sans", "fontSize": 17, "color": "black", "align": "center", "baseline": "alphabetic", "lineBreak": "|", "lineHeight": 18, "dy": 5},
    "encoding": {"x": {"field": "mid", "type": "quantitative", "axis": null}, "y": {"datum": 751.49, "axis": null}, "text": {"field": "lbl"}}}
  ]},
 {"width": 388, "height": 304,
  "title": {"text": "17762_ECC\u00a0\u00a0\u00a0\u00a0\u00a0\u00a0\u00a0Plan: PR_n=0.06\u00a0\u00a0\u00a0\u00a03/7/2017", "subtitle": "River = ECC\u00a0\u00a0\u00a0Reach = Reach-2\u00a0\u00a0\u00a0\u00a0\u00a0\u00a0RS = 3800"},
  "resolve": {"axis": {"x": "independent", "y": "independent"}},
  "layer": [
   {"data": {"values": []}, "mark": {"type": "point", "filled": true, "opacity": 1},
    "encoding": {
     "color": {"field": "series", "type": "nominal", "scale": {"domain": ["WS 100-Year","WS 50-Year","Ground","Ineff","Bank Sta"], "range": ["#0000ff","#4848ff","#000000","#008000","#ff0000"]}, "legend": {"title": "Legend", "orient": "none", "legendX": 398.5, "legendY": 33}},
     "shape": {"field": "series", "type": "nominal", "scale": {"domain": ["WS 100-Year","WS 50-Year","Ground","Ineff","Bank Sta"], "range": ["M-10.5,-3.31L10.5,-3.31L10.5,-3.09L-10.5,-3.09Z M0,-4.05L0.65,-2.85L-0.65,-2.85Z M0,-4.6L0.01,-4.6Z","M-10.5,-3.31L10.5,-3.31L10.5,-3.09L-10.5,-3.09Z M0,-4.6L0.01,-4.6Z","M-10.5,-3.31L10.5,-3.31L10.5,-3.09L-10.5,-3.09Z M-0.7,-3.9L0.7,-3.9L0.7,-2.5L-0.7,-2.5Z M0,-4.6L0.01,-4.6Z","M-10.5,-3.31L10.5,-3.31L10.5,-3.09L-10.5,-3.09Z M0,-4.4L1.15,-2.35L-1.15,-2.35Z M0,-4.6L0.01,-4.6Z","M1.1,-3.2A1.1,1.1 0 1,1 -1.1,-3.2A1.1,1.1 0 1,1 1.1,-3.2Z M0,-4.6L0.01,-4.6Z"]}, "legend": {"title": "Legend", "orient": "none", "legendX": 398.5, "legendY": 33}}}},
   {"data": {"name": "ws"}, "transform": [{"filter": "datum.rs == '3800' && datum.profile == 'WS 50-Year'"}],
    "mark": {"type": "line", "color": "#4848ff", "strokeWidth": 1.2},
    "encoding": {"x": {"field": "sta", "type": "quantitative", "axis": null}, "y": {"field": "elev", "type": "quantitative", "axis": null}, "detail": {"field": "seg"}, "order": {"value": null}}},
   {"data": {"name": "ws"}, "transform": [{"filter": "datum.rs == '3800' && datum.profile == 'WS 100-Year'"}],
    "mark": {"type": "line", "color": "#0000ff", "strokeWidth": 1.2, "point": {"shape": "triangle-up", "size": 36, "filled": true, "color": "#0000ff", "opacity": 1}},
    "encoding": {"x": {"field": "sta", "type": "quantitative", "axis": null}, "y": {"field": "elev", "type": "quantitative", "axis": null}, "detail": {"field": "seg"}, "order": {"value": null}}},
   {"data": {"name": "ground"}, "transform": [{"filter": "datum.rs == '3800'"}],
    "mark": {"type": "line", "color": "black", "strokeWidth": 1, "point": {"shape": "square", "size": 45, "filled": true, "color": "black", "opacity": 1}},
    "encoding": {"x": {"field": "sta", "type": "quantitative", "scale": {"domain": [0, 180], "nice": false, "zero": false}, "axis": {"orient": "bottom", "title": "Station (ft)", "values": [0,20,40,60,80,100,120,140,160,180], "format": "d"}},
     "y": {"field": "elev", "type": "quantitative", "scale": {"domain": [742, 751.02], "nice": false, "zero": false}, "axis": {"orient": "left", "title": "Elevation (ft)", "values": [742,744,746,748,750], "format": "d"}},
     "order": {"value": null}}},
   {"data": {"name": "ineff"}, "transform": [{"filter": "datum.rs == '3800'"}],
    "mark": {"type": "line", "color": "#2a962a", "strokeWidth": 1, "point": {"shape": "triangle-up", "size": 121, "filled": true, "color": "#008000", "opacity": 1}},
    "encoding": {"x": {"field": "sta", "type": "quantitative", "axis": null}, "y": {"field": "elev", "type": "quantitative", "axis": null}, "order": {"value": null}}},
   {"data": {"name": "bank"}, "transform": [{"filter": "datum.rs == '3800'"}],
    "mark": {"type": "point", "shape": "circle", "size": 121, "filled": true, "color": "#ff0000", "opacity": 1},
    "encoding": {"x": {"field": "sta", "type": "quantitative", "axis": {"orient": "bottom", "values": [10,30,50,70,90,110,130,150,170], "labels": false, "domain": false, "tickSize": 3, "title": null}},
     "y": {"field": "elev", "type": "quantitative", "axis": {"orient": "left", "values": [742.4,742.8,743.2,743.6,744.4,744.8,745.2,745.6,746.4,746.8,747.2,747.6,748.4,748.8,749.2,749.6], "labels": false, "domain": false, "tickSize": 3, "title": null}}}},
   {"data": {"name": "nval"}, "transform": [{"filter": "datum.rs == '3800'"}],
    "mark": {"type": "rule", "color": "black", "strokeWidth": 1},
    "encoding": {"x": {"field": "end", "type": "quantitative", "axis": null}, "y": {"datum": 750, "axis": null}, "y2": {"datum": 751.02}}},
   {"data": {"name": "nval"}, "transform": [{"filter": "datum.rs == '3800' && datum.end - datum.start >= 14"}],
    "mark": {"type": "rule", "color": "black", "strokeWidth": 1},
    "encoding": {"x": {"field": "start", "type": "quantitative", "axis": null}, "x2": {"field": "end"}, "y": {"datum": 750.49, "axis": null}}},
   {"data": {"name": "nval"}, "transform": [{"filter": "datum.rs == '3800' && datum.end - datum.start >= 14"}, {"calculate": "(datum.start + datum.end) / 2", "as": "mid"}],
    "mark": {"type": "point", "shape": "M-1,-0.5L1,-0.5L1,0.5L-1,0.5Z", "size": 841, "filled": true, "color": "white", "opacity": 1},
    "encoding": {"x": {"field": "mid", "type": "quantitative", "axis": null}, "y": {"datum": 750.49, "axis": null}}},
   {"data": {"name": "nval"}, "transform": [{"filter": "datum.rs == '3800' && datum.end - datum.start >= 14"}, {"calculate": "(datum.start + datum.end) / 2", "as": "mid"}],
    "mark": {"type": "text", "font": "Liberation Sans", "fontSize": 17, "color": "black", "align": "center", "baseline": "middle"},
    "encoding": {"x": {"field": "mid", "type": "quantitative", "axis": null}, "y": {"datum": 750.49, "axis": null}, "text": {"field": "n"}}},
   {"data": {"name": "nval"}, "transform": [{"filter": "datum.rs == '3800' && datum.end - datum.start >= 14"}],
    "mark": {"type": "point", "shape": "M1,-0.45L0,0L1,0.45", "size": 256, "filled": false, "color": "black", "strokeWidth": 1, "opacity": 1},
    "encoding": {"x": {"field": "start", "type": "quantitative", "axis": null}, "y": {"datum": 750.49, "axis": null}}},
   {"data": {"name": "nval"}, "transform": [{"filter": "datum.rs == '3800' && datum.end - datum.start >= 14"}],
    "mark": {"type": "point", "shape": "M-1,-0.45L0,0L-1,0.45", "size": 256, "filled": false, "color": "black", "strokeWidth": 1, "opacity": 1},
    "encoding": {"x": {"field": "end", "type": "quantitative", "axis": null}, "y": {"datum": 750.49, "axis": null}}},
   {"data": {"name": "nval"}, "transform": [{"filter": "datum.rs == '3800' && datum.end - datum.start < 14"}, {"calculate": "(datum.start + datum.end) / 2", "as": "mid"}, {"calculate": "join(split(datum.n, ''), '|')", "as": "lbl"}],
    "mark": {"type": "text", "font": "Liberation Sans", "fontSize": 17, "color": "black", "align": "center", "baseline": "alphabetic", "lineBreak": "|", "lineHeight": 18, "dy": 5},
    "encoding": {"x": {"field": "mid", "type": "quantitative", "axis": null}, "y": {"datum": 750.49, "axis": null}, "text": {"field": "lbl"}}}
  ]},
 {"width": 388, "height": 304,
  "title": {"text": "17762_ECC\u00a0\u00a0\u00a0\u00a0\u00a0\u00a0\u00a0Plan: PR_n=0.06\u00a0\u00a0\u00a0\u00a03/7/2017", "subtitle": "River = ECC\u00a0\u00a0\u00a0Reach = Reach-2\u00a0\u00a0\u00a0\u00a0\u00a0\u00a0RS = 3700"},
  "resolve": {"axis": {"x": "independent", "y": "independent"}},
  "layer": [
   {"data": {"values": []}, "mark": {"type": "point", "filled": true, "opacity": 1},
    "encoding": {
     "color": {"field": "series", "type": "nominal", "scale": {"domain": ["WS 100-Year","WS 50-Year","Ground","Ineff","Bank Sta"], "range": ["#0000ff","#4848ff","#000000","#008000","#ff0000"]}, "legend": {"title": "Legend", "orient": "none", "legendX": 398.5, "legendY": 33}},
     "shape": {"field": "series", "type": "nominal", "scale": {"domain": ["WS 100-Year","WS 50-Year","Ground","Ineff","Bank Sta"], "range": ["M-10.5,-3.31L10.5,-3.31L10.5,-3.09L-10.5,-3.09Z M0,-4.05L0.65,-2.85L-0.65,-2.85Z M0,-4.6L0.01,-4.6Z","M-10.5,-3.31L10.5,-3.31L10.5,-3.09L-10.5,-3.09Z M0,-4.6L0.01,-4.6Z","M-10.5,-3.31L10.5,-3.31L10.5,-3.09L-10.5,-3.09Z M-0.7,-3.9L0.7,-3.9L0.7,-2.5L-0.7,-2.5Z M0,-4.6L0.01,-4.6Z","M-10.5,-3.31L10.5,-3.31L10.5,-3.09L-10.5,-3.09Z M0,-4.4L1.15,-2.35L-1.15,-2.35Z M0,-4.6L0.01,-4.6Z","M1.1,-3.2A1.1,1.1 0 1,1 -1.1,-3.2A1.1,1.1 0 1,1 1.1,-3.2Z M0,-4.6L0.01,-4.6Z"]}, "legend": {"title": "Legend", "orient": "none", "legendX": 398.5, "legendY": 33}}}},
   {"data": {"name": "ws"}, "transform": [{"filter": "datum.rs == '3700' && datum.profile == 'WS 50-Year'"}],
    "mark": {"type": "line", "color": "#4848ff", "strokeWidth": 1.2},
    "encoding": {"x": {"field": "sta", "type": "quantitative", "axis": null}, "y": {"field": "elev", "type": "quantitative", "axis": null}, "detail": {"field": "seg"}, "order": {"value": null}}},
   {"data": {"name": "ws"}, "transform": [{"filter": "datum.rs == '3700' && datum.profile == 'WS 100-Year'"}],
    "mark": {"type": "line", "color": "#0000ff", "strokeWidth": 1.2, "point": {"shape": "triangle-up", "size": 36, "filled": true, "color": "#0000ff", "opacity": 1}},
    "encoding": {"x": {"field": "sta", "type": "quantitative", "axis": null}, "y": {"field": "elev", "type": "quantitative", "axis": null}, "detail": {"field": "seg"}, "order": {"value": null}}},
   {"data": {"name": "ground"}, "transform": [{"filter": "datum.rs == '3700'"}],
    "mark": {"type": "line", "color": "black", "strokeWidth": 1, "point": {"shape": "square", "size": 45, "filled": true, "color": "black", "opacity": 1}},
    "encoding": {"x": {"field": "sta", "type": "quantitative", "scale": {"domain": [0, 160], "nice": false, "zero": false}, "axis": {"orient": "bottom", "title": "Station (ft)", "values": [0,20,40,60,80,100,120,140,160], "format": "d"}},
     "y": {"field": "elev", "type": "quantitative", "scale": {"domain": [740, 751.27], "nice": false, "zero": false}, "axis": {"orient": "left", "title": "Elevation (ft)", "values": [740,742,744,746,748,750], "format": "d"}},
     "order": {"value": null}}},
   {"data": {"name": "ineff"}, "transform": [{"filter": "datum.rs == '3700'"}],
    "mark": {"type": "line", "color": "#2a962a", "strokeWidth": 1, "point": {"shape": "triangle-up", "size": 121, "filled": true, "color": "#008000", "opacity": 1}},
    "encoding": {"x": {"field": "sta", "type": "quantitative", "axis": null}, "y": {"field": "elev", "type": "quantitative", "axis": null}, "order": {"value": null}}},
   {"data": {"name": "bank"}, "transform": [{"filter": "datum.rs == '3700'"}],
    "mark": {"type": "point", "shape": "circle", "size": 121, "filled": true, "color": "#ff0000", "opacity": 1},
    "encoding": {"x": {"field": "sta", "type": "quantitative", "axis": {"orient": "bottom", "values": [10,30,50,70,90,110,130,150], "labels": false, "domain": false, "tickSize": 3, "title": null}},
     "y": {"field": "elev", "type": "quantitative", "axis": {"orient": "left", "values": [740.4,740.8,741.2,741.6,742.4,742.8,743.2,743.6,744.4,744.8,745.2,745.6,746.4,746.8,747.2,747.6,748.4,748.8,749.2,749.6], "labels": false, "domain": false, "tickSize": 3, "title": null}}}},
   {"data": {"name": "nval"}, "transform": [{"filter": "datum.rs == '3700'"}],
    "mark": {"type": "rule", "color": "black", "strokeWidth": 1},
    "encoding": {"x": {"field": "end", "type": "quantitative", "axis": null}, "y": {"datum": 750, "axis": null}, "y2": {"datum": 751.27}}},
   {"data": {"name": "nval"}, "transform": [{"filter": "datum.rs == '3700' && datum.end - datum.start >= 14"}],
    "mark": {"type": "rule", "color": "black", "strokeWidth": 1},
    "encoding": {"x": {"field": "start", "type": "quantitative", "axis": null}, "x2": {"field": "end"}, "y": {"datum": 750.62, "axis": null}}},
   {"data": {"name": "nval"}, "transform": [{"filter": "datum.rs == '3700' && datum.end - datum.start >= 14"}, {"calculate": "(datum.start + datum.end) / 2", "as": "mid"}],
    "mark": {"type": "point", "shape": "M-1,-0.5L1,-0.5L1,0.5L-1,0.5Z", "size": 841, "filled": true, "color": "white", "opacity": 1},
    "encoding": {"x": {"field": "mid", "type": "quantitative", "axis": null}, "y": {"datum": 750.62, "axis": null}}},
   {"data": {"name": "nval"}, "transform": [{"filter": "datum.rs == '3700' && datum.end - datum.start >= 14"}, {"calculate": "(datum.start + datum.end) / 2", "as": "mid"}],
    "mark": {"type": "text", "font": "Liberation Sans", "fontSize": 17, "color": "black", "align": "center", "baseline": "middle"},
    "encoding": {"x": {"field": "mid", "type": "quantitative", "axis": null}, "y": {"datum": 750.62, "axis": null}, "text": {"field": "n"}}},
   {"data": {"name": "nval"}, "transform": [{"filter": "datum.rs == '3700' && datum.end - datum.start >= 14"}],
    "mark": {"type": "point", "shape": "M1,-0.45L0,0L1,0.45", "size": 256, "filled": false, "color": "black", "strokeWidth": 1, "opacity": 1},
    "encoding": {"x": {"field": "start", "type": "quantitative", "axis": null}, "y": {"datum": 750.62, "axis": null}}},
   {"data": {"name": "nval"}, "transform": [{"filter": "datum.rs == '3700' && datum.end - datum.start >= 14"}],
    "mark": {"type": "point", "shape": "M-1,-0.45L0,0L-1,0.45", "size": 256, "filled": false, "color": "black", "strokeWidth": 1, "opacity": 1},
    "encoding": {"x": {"field": "end", "type": "quantitative", "axis": null}, "y": {"datum": 750.62, "axis": null}}}
  ]},
 {"width": 388, "height": 304,
  "title": {"text": "17762_ECC\u00a0\u00a0\u00a0\u00a0\u00a0\u00a0\u00a0Plan: PR_n=0.06\u00a0\u00a0\u00a0\u00a03/7/2017", "subtitle": "River = ECC\u00a0\u00a0\u00a0Reach = Reach-5\u00a0\u00a0\u00a0\u00a0\u00a0\u00a0RS = 2145.59"},
  "resolve": {"axis": {"x": "independent", "y": "independent"}},
  "layer": [
   {"data": {"values": []}, "mark": {"type": "point", "filled": true, "opacity": 1},
    "encoding": {
     "color": {"field": "series", "type": "nominal", "scale": {"domain": ["WS 100-Year","WS 50-Year","Ground","Bank Sta"], "range": ["#0000ff","#4848ff","#000000","#ff0000"]}, "legend": {"title": "Legend", "orient": "none", "legendX": 398.5, "legendY": 33}},
     "shape": {"field": "series", "type": "nominal", "scale": {"domain": ["WS 100-Year","WS 50-Year","Ground","Bank Sta"], "range": ["M-10.5,-3.31L10.5,-3.31L10.5,-3.09L-10.5,-3.09Z M0,-4.05L0.65,-2.85L-0.65,-2.85Z M0,-4.6L0.01,-4.6Z","M-10.5,-3.31L10.5,-3.31L10.5,-3.09L-10.5,-3.09Z M0,-4.6L0.01,-4.6Z","M-10.5,-3.31L10.5,-3.31L10.5,-3.09L-10.5,-3.09Z M-0.7,-3.9L0.7,-3.9L0.7,-2.5L-0.7,-2.5Z M0,-4.6L0.01,-4.6Z","M1.1,-3.2A1.1,1.1 0 1,1 -1.1,-3.2A1.1,1.1 0 1,1 1.1,-3.2Z M0,-4.6L0.01,-4.6Z"]}, "legend": {"title": "Legend", "orient": "none", "legendX": 398.5, "legendY": 33}}}},
   {"data": {"name": "ws"}, "transform": [{"filter": "datum.rs == '2145.59' && datum.profile == 'WS 50-Year'"}],
    "mark": {"type": "line", "color": "#4848ff", "strokeWidth": 1.2},
    "encoding": {"x": {"field": "sta", "type": "quantitative", "axis": null}, "y": {"field": "elev", "type": "quantitative", "axis": null}, "detail": {"field": "seg"}, "order": {"value": null}}},
   {"data": {"name": "ws"}, "transform": [{"filter": "datum.rs == '2145.59' && datum.profile == 'WS 100-Year'"}],
    "mark": {"type": "line", "color": "#0000ff", "strokeWidth": 1.2, "point": {"shape": "triangle-up", "size": 36, "filled": true, "color": "#0000ff", "opacity": 1}},
    "encoding": {"x": {"field": "sta", "type": "quantitative", "axis": null}, "y": {"field": "elev", "type": "quantitative", "axis": null}, "detail": {"field": "seg"}, "order": {"value": null}}},
   {"data": {"name": "ground"}, "transform": [{"filter": "datum.rs == '2145.59'"}],
    "mark": {"type": "line", "color": "black", "strokeWidth": 1, "point": {"shape": "square", "size": 45, "filled": true, "color": "black", "opacity": 1}},
    "encoding": {"x": {"field": "sta", "type": "quantitative", "scale": {"domain": [0, 100], "nice": false, "zero": false}, "axis": {"orient": "bottom", "title": "Station (ft)", "values": [0,20,40,60,80,100], "format": "d"}},
     "y": {"field": "elev", "type": "quantitative", "scale": {"domain": [770, 788.03], "nice": false, "zero": false}, "axis": {"orient": "left", "title": "Elevation (ft)", "values": [770,772,774,776,778,780,782,784,786], "format": "d"}},
     "order": {"value": null}}},
   {"data": {"name": "bank"}, "transform": [{"filter": "datum.rs == '2145.59'"}],
    "mark": {"type": "point", "shape": "circle", "size": 121, "filled": true, "color": "#ff0000", "opacity": 1},
    "encoding": {"x": {"field": "sta", "type": "quantitative", "axis": {"orient": "bottom", "values": [4,8,12,16,24,28,32,36,44,48,52,56,64,68,72,76,84,88,92,96], "labels": false, "domain": false, "tickSize": 3, "title": null}},
     "y": {"field": "elev", "type": "quantitative", "axis": {"orient": "left", "values": [771,773,775,777,779,781,783,785], "labels": false, "domain": false, "tickSize": 3, "title": null}}}},
   {"data": {"name": "nval"}, "transform": [{"filter": "datum.rs == '2145.59'"}],
    "mark": {"type": "rule", "color": "black", "strokeWidth": 1},
    "encoding": {"x": {"field": "end", "type": "quantitative", "axis": null}, "y": {"datum": 786, "axis": null}, "y2": {"datum": 788.03}}},
   {"data": {"name": "nval"}, "transform": [{"filter": "datum.rs == '2145.59'"}],
    "mark": {"type": "rule", "color": "black", "strokeWidth": 1},
    "encoding": {"x": {"field": "start", "type": "quantitative", "axis": null}, "x2": {"field": "end"}, "y": {"datum": 786.98, "axis": null}}},
   {"data": {"name": "nval"}, "transform": [{"filter": "datum.rs == '2145.59'"}, {"calculate": "(datum.start + datum.end) / 2", "as": "mid"}],
    "mark": {"type": "point", "shape": "M-1,-0.5L1,-0.5L1,0.5L-1,0.5Z", "size": 841, "filled": true, "color": "white", "opacity": 1},
    "encoding": {"x": {"field": "mid", "type": "quantitative", "axis": null}, "y": {"datum": 786.98, "axis": null}}},
   {"data": {"name": "nval"}, "transform": [{"filter": "datum.rs == '2145.59'"}, {"calculate": "(datum.start + datum.end) / 2", "as": "mid"}],
    "mark": {"type": "text", "font": "Liberation Sans", "fontSize": 17, "color": "black", "align": "center", "baseline": "middle"},
    "encoding": {"x": {"field": "mid", "type": "quantitative", "axis": null}, "y": {"datum": 786.98, "axis": null}, "text": {"field": "n"}}},
   {"data": {"name": "nval"}, "transform": [{"filter": "datum.rs == '2145.59'"}],
    "mark": {"type": "point", "shape": "M1,-0.45L0,0L1,0.45", "size": 256, "filled": false, "color": "black", "strokeWidth": 1, "opacity": 1},
    "encoding": {"x": {"field": "start", "type": "quantitative", "axis": null}, "y": {"datum": 786.98, "axis": null}}},
   {"data": {"name": "nval"}, "transform": [{"filter": "datum.rs == '2145.59'"}],
    "mark": {"type": "point", "shape": "M-1,-0.45L0,0L-1,0.45", "size": 256, "filled": false, "color": "black", "strokeWidth": 1, "opacity": 1},
    "encoding": {"x": {"field": "end", "type": "quantitative", "axis": null}, "y": {"datum": 786.98, "axis": null}}}
  ]},
 {"width": 388, "height": 304,
  "title": {"text": "17762_ECC\u00a0\u00a0\u00a0\u00a0\u00a0\u00a0\u00a0Plan: PR_n=0.06\u00a0\u00a0\u00a0\u00a03/7/2017", "subtitle": "River = ECC\u00a0\u00a0\u00a0Reach = Reach-5\u00a0\u00a0\u00a0\u00a0\u00a0\u00a0RS = 2095.59"},
  "resolve": {"axis": {"x": "independent", "y": "independent"}},
  "layer": [
   {"data": {"values": []}, "mark": {"type": "point", "filled": true, "opacity": 1},
    "encoding": {
     "color": {"field": "series", "type": "nominal", "scale": {"domain": ["WS 100-Year","WS 50-Year","Ground","Bank Sta"], "range": ["#0000ff","#4848ff","#000000","#ff0000"]}, "legend": {"title": "Legend", "orient": "none", "legendX": 398.5, "legendY": 33}},
     "shape": {"field": "series", "type": "nominal", "scale": {"domain": ["WS 100-Year","WS 50-Year","Ground","Bank Sta"], "range": ["M-10.5,-3.31L10.5,-3.31L10.5,-3.09L-10.5,-3.09Z M0,-4.05L0.65,-2.85L-0.65,-2.85Z M0,-4.6L0.01,-4.6Z","M-10.5,-3.31L10.5,-3.31L10.5,-3.09L-10.5,-3.09Z M0,-4.6L0.01,-4.6Z","M-10.5,-3.31L10.5,-3.31L10.5,-3.09L-10.5,-3.09Z M-0.7,-3.9L0.7,-3.9L0.7,-2.5L-0.7,-2.5Z M0,-4.6L0.01,-4.6Z","M1.1,-3.2A1.1,1.1 0 1,1 -1.1,-3.2A1.1,1.1 0 1,1 1.1,-3.2Z M0,-4.6L0.01,-4.6Z"]}, "legend": {"title": "Legend", "orient": "none", "legendX": 398.5, "legendY": 33}}}},
   {"data": {"name": "ws"}, "transform": [{"filter": "datum.rs == '2095.59' && datum.profile == 'WS 50-Year'"}],
    "mark": {"type": "line", "color": "#4848ff", "strokeWidth": 1.2},
    "encoding": {"x": {"field": "sta", "type": "quantitative", "axis": null}, "y": {"field": "elev", "type": "quantitative", "axis": null}, "detail": {"field": "seg"}, "order": {"value": null}}},
   {"data": {"name": "ws"}, "transform": [{"filter": "datum.rs == '2095.59' && datum.profile == 'WS 100-Year'"}],
    "mark": {"type": "line", "color": "#0000ff", "strokeWidth": 1.2, "point": {"shape": "triangle-up", "size": 36, "filled": true, "color": "#0000ff", "opacity": 1}},
    "encoding": {"x": {"field": "sta", "type": "quantitative", "axis": null}, "y": {"field": "elev", "type": "quantitative", "axis": null}, "detail": {"field": "seg"}, "order": {"value": null}}},
   {"data": {"name": "ground"}, "transform": [{"filter": "datum.rs == '2095.59'"}],
    "mark": {"type": "line", "color": "black", "strokeWidth": 1, "point": {"shape": "square", "size": 45, "filled": true, "color": "black", "opacity": 1}},
    "encoding": {"x": {"field": "sta", "type": "quantitative", "scale": {"domain": [0, 100], "nice": false, "zero": false}, "axis": {"orient": "bottom", "title": "Station (ft)", "values": [0,20,40,60,80,100], "format": "d"}},
     "y": {"field": "elev", "type": "quantitative", "scale": {"domain": [770, 788.03], "nice": false, "zero": false}, "axis": {"orient": "left", "title": "Elevation (ft)", "values": [770,772,774,776,778,780,782,784,786], "format": "d"}},
     "order": {"value": null}}},
   {"data": {"name": "bank"}, "transform": [{"filter": "datum.rs == '2095.59'"}],
    "mark": {"type": "point", "shape": "circle", "size": 121, "filled": true, "color": "#ff0000", "opacity": 1},
    "encoding": {"x": {"field": "sta", "type": "quantitative", "axis": {"orient": "bottom", "values": [4,8,12,16,24,28,32,36,44,48,52,56,64,68,72,76,84,88,92,96], "labels": false, "domain": false, "tickSize": 3, "title": null}},
     "y": {"field": "elev", "type": "quantitative", "axis": {"orient": "left", "values": [771,773,775,777,779,781,783,785], "labels": false, "domain": false, "tickSize": 3, "title": null}}}},
   {"data": {"name": "nval"}, "transform": [{"filter": "datum.rs == '2095.59'"}],
    "mark": {"type": "rule", "color": "black", "strokeWidth": 1},
    "encoding": {"x": {"field": "end", "type": "quantitative", "axis": null}, "y": {"datum": 786, "axis": null}, "y2": {"datum": 788.03}}},
   {"data": {"name": "nval"}, "transform": [{"filter": "datum.rs == '2095.59'"}],
    "mark": {"type": "rule", "color": "black", "strokeWidth": 1},
    "encoding": {"x": {"field": "start", "type": "quantitative", "axis": null}, "x2": {"field": "end"}, "y": {"datum": 786.98, "axis": null}}},
   {"data": {"name": "nval"}, "transform": [{"filter": "datum.rs == '2095.59'"}, {"calculate": "(datum.start + datum.end) / 2", "as": "mid"}],
    "mark": {"type": "point", "shape": "M-1,-0.5L1,-0.5L1,0.5L-1,0.5Z", "size": 841, "filled": true, "color": "white", "opacity": 1},
    "encoding": {"x": {"field": "mid", "type": "quantitative", "axis": null}, "y": {"datum": 786.98, "axis": null}}},
   {"data": {"name": "nval"}, "transform": [{"filter": "datum.rs == '2095.59'"}, {"calculate": "(datum.start + datum.end) / 2", "as": "mid"}],
    "mark": {"type": "text", "font": "Liberation Sans", "fontSize": 17, "color": "black", "align": "center", "baseline": "middle"},
    "encoding": {"x": {"field": "mid", "type": "quantitative", "axis": null}, "y": {"datum": 786.98, "axis": null}, "text": {"field": "n"}}},
   {"data": {"name": "nval"}, "transform": [{"filter": "datum.rs == '2095.59'"}],
    "mark": {"type": "point", "shape": "M1,-0.45L0,0L1,0.45", "size": 256, "filled": false, "color": "black", "strokeWidth": 1, "opacity": 1},
    "encoding": {"x": {"field": "start", "type": "quantitative", "axis": null}, "y": {"datum": 786.98, "axis": null}}},
   {"data": {"name": "nval"}, "transform": [{"filter": "datum.rs == '2095.59'"}],
    "mark": {"type": "point", "shape": "M-1,-0.45L0,0L-1,0.45", "size": 256, "filled": false, "color": "black", "strokeWidth": 1, "opacity": 1},
    "encoding": {"x": {"field": "end", "type": "quantitative", "axis": null}, "y": {"datum": 786.98, "axis": null}}}
  ]}
]
}
